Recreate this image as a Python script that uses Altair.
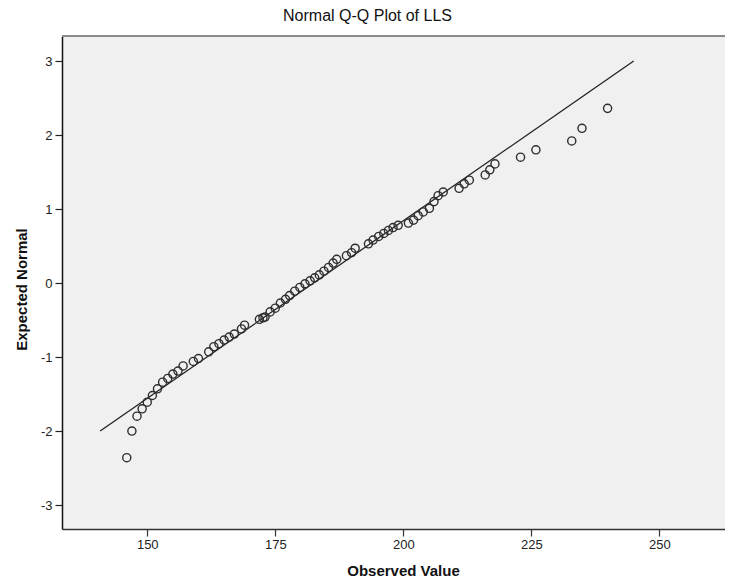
import altair as alt
import pandas as pd

observed = [146.0, 147.0, 148.0, 149.0, 150.0, 151.0, 152.0, 153.0, 154.0, 155.0,
            156.0, 157.0, 159.0, 160.0, 162.0, 163.0, 164.0, 165.0, 166.0, 167.0,
            168.4, 169.0, 171.9, 172.6, 173.0, 174.0, 175.0, 176.0, 177.0, 177.8,
            178.8, 179.8, 180.8, 181.8, 182.7, 183.6, 184.5, 185.4, 186.3, 187.0,
            188.9, 189.9, 190.6, 193.2, 194.1, 195.2, 196.2, 197.1, 198.0, 199.0,
            201.0, 202.0, 202.9, 203.9, 205.1, 206.0, 206.8, 207.8, 210.9, 211.9,
            212.9, 216.0, 216.9, 217.9, 222.9, 225.9, 232.9, 234.9, 239.9]
expected = [-2.36, -2.00, -1.80, -1.70, -1.61, -1.52, -1.43, -1.34, -1.29, -1.23,
            -1.19, -1.12, -1.06, -1.02, -0.93, -0.86, -0.82, -0.77, -0.73, -0.69,
            -0.62, -0.57, -0.49, -0.47, -0.46, -0.39, -0.34, -0.27, -0.22, -0.17,
            -0.11, -0.06, -0.01, 0.03, 0.07, 0.11, 0.16, 0.21, 0.27, 0.32,
            0.37, 0.41, 0.47, 0.53, 0.58, 0.63, 0.67, 0.71, 0.75, 0.78,
            0.81, 0.85, 0.91, 0.96, 1.01, 1.10, 1.18, 1.23, 1.28, 1.34,
            1.39, 1.46, 1.53, 1.61, 1.70, 1.80, 1.92, 2.09, 2.36]

# Reference line end points
line_x = [140.8, 245.0]
line_y = [-2.0, 3.0]

x_ticks = [150, 175, 200, 225, 250]
y_ticks = [-3, -2, -1, 0, 1, 2, 3]

X_DOMAIN = [133.35, 262.83]
Y_DOMAIN = [-3.324, 3.338]

FONT = "Liberation Sans"

pts = pd.DataFrame({"Observed Value": observed, "Expected Normal": expected})
ref = pd.DataFrame({"Observed Value": line_x, "Expected Normal": line_y})

x_enc = alt.X(
    "Observed Value:Q",
    scale=alt.Scale(domain=X_DOMAIN, nice=False, zero=False),
    axis=alt.Axis(
        values=x_ticks, format="d", grid=False, tickSize=7, tickColor="#333333", tickWidth=1.2,
        domainColor="#333333", domainWidth=1.5, labelFont=FONT, labelFontSize=13,
        labelColor="#222222", labelPadding=2, title="Observed Value",
        titleFont=FONT, titleFontSize=15, titleFontWeight="bold", titleColor="#111111",
        titleX=341, titleY=46, titleBaseline="alphabetic", titleAlign="center",
    ),
)
y_enc = alt.Y(
    "Expected Normal:Q",
    scale=alt.Scale(domain=Y_DOMAIN, nice=False, zero=False),
    axis=alt.Axis(
        values=y_ticks, labelExpr="'' + datum.value", grid=False, tickSize=7,
        tickColor="#222222", tickWidth=1.2,
        domainColor="#111111", domainWidth=1.5, labelFont=FONT, labelFontSize=13,
        labelColor="#222222", labelPadding=3, title="Expected Normal",
        titleFont=FONT, titleFontSize=15, titleFontWeight="bold", titleColor="#111111",
        titleX=-41, titleY=253, titleBaseline="middle", titleAlign="center", titleAngle=-90,
    ),
)

line = alt.Chart(ref).mark_line(color="#222222", strokeWidth=1.3).encode(x=x_enc, y=y_enc)

points = alt.Chart(pts).mark_point(
    shape="circle", filled=False, size=66, stroke="#2e2e2e", strokeWidth=1.4, opacity=1
).encode(x="Observed Value:Q", y="Expected Normal:Q")

top_frame = alt.Chart(pts).mark_rule(color="#8a8a8a", strokeWidth=2).encode(
    x=alt.value(0), x2=alt.value(663), y=alt.value(0)
)

chart = (
    alt.layer(line, points, top_frame)
    .properties(
        width=663,
        height=493,
        autosize=alt.AutoSizeParams(type="none"),
        padding={"left": 54, "top": 28, "right": 0, "bottom": 52},
        title=alt.TitleParams(
            "Normal Q-Q Plot of LLS", font=FONT, fontSize=16, fontWeight="normal",
            color="#111111", anchor="middle", dx=-26, dy=14, offset=12, baseline="alphabetic",
        ),
        background="white",
    )
    .configure_view(fill="#f0f0f0", stroke=None)
)

chart.save("out.html", embed_options={"renderer": "svg", "actions": False})
